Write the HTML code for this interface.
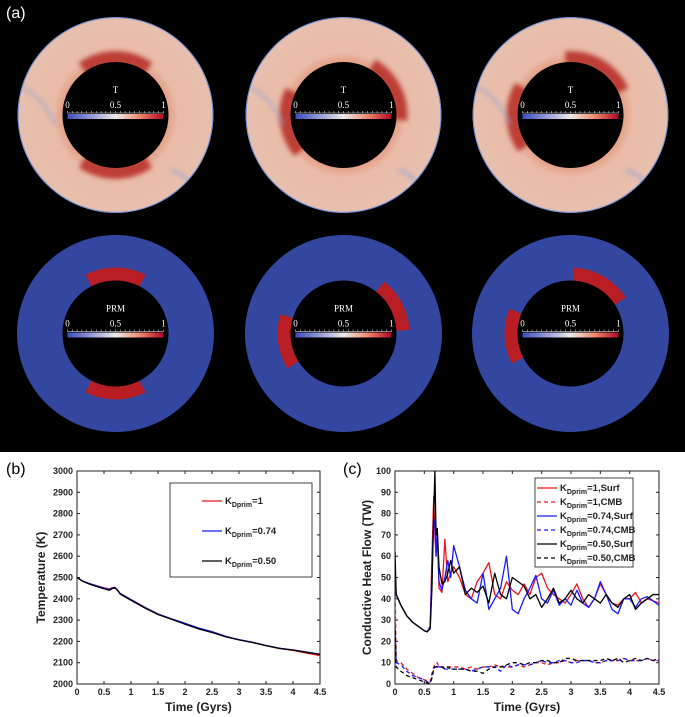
<!DOCTYPE html>
<html><head><meta charset="utf-8">
<style>
html,body{margin:0;padding:0;background:#fff;}
svg{display:block;font-family:"Liberation Sans",sans-serif;}
.tk{font-size:9px;font-weight:bold;fill:#222;}
.cb{font-family:"Liberation Serif",serif;fill:#fff;font-size:9px;}
</style></head>
<body>
<svg id="fig" width="685" height="717" viewBox="0 0 685 717" xmlns="http://www.w3.org/2000/svg">
<defs>
<linearGradient id="cmap" x1="0" x2="1" y1="0" y2="0">
<stop offset="0" stop-color="#3b4cc0"/><stop offset="0.5" stop-color="#eeeaea"/><stop offset="0.75" stop-color="#f08a6c"/><stop offset="1" stop-color="#b40426"/>
</linearGradient>
<radialGradient id="tfill" cx="0.5" cy="0.5" r="0.5">
<stop offset="0.54" stop-color="#e4a088"/><stop offset="0.64" stop-color="#e9bca8"/><stop offset="1" stop-color="#e8bfad"/>
</radialGradient>
<filter id="blur2" x="-20%" y="-20%" width="140%" height="140%"><feGaussianBlur stdDeviation="2.5"/></filter>
</defs>
<rect x="0" y="0" width="685" height="452" fill="#000"/>
<text x="6" y="18" fill="#fff" font-size="16">(a)</text>
<g id="annuli"></g>

<text x="6" y="474" fill="#000" font-size="16">(b)</text>
<g id="chartB"></g>
<text x="343" y="474" fill="#000" font-size="16">(c)</text>
<g id="chartC"></g>
</svg>
<script>
const NS="http://www.w3.org/2000/svg";
function mk(tag,attrs,parent,txt){const e=document.createElementNS(NS,tag);for(const k in attrs)e.setAttribute(k,attrs[k]);if(txt!==undefined)e.textContent=txt;parent.appendChild(e);return e;}

// ---------- Panel (a) annuli ----------
const annCx=[115.5,343.5,570.5];
const capsT=[[[-125,-55],[55,125]],[[-60,5],[140,205]],[[-95,-25],[145,210]]];
const G=document.getElementById('annuli');
const defs=document.querySelector('defs');
function sector(cx,cy,r1,r2,a0,a1){const d=Math.PI/180;const p=(r,a)=>[cx+r*Math.cos(a*d),cy+r*Math.sin(a*d)];
const [x0,y0]=p(r1,a0),[x1,y1]=p(r1,a1),[x2,y2]=p(r2,a1),[x3,y3]=p(r2,a0);const lg=(a1-a0)>180?1:0;
return `M${x0},${y0}A${r1},${r1} 0 ${lg} 1 ${x1},${y1}L${x2},${y2}A${r2},${r2} 0 ${lg} 0 ${x3},${y3}Z`;}
function colorbar(cx,cy,title){
  const g=mk('g',{},G);
  
  
  mk('text',{x:cx,y:cy-22,'text-anchor':'middle',class:'cb','font-size':'10'},g,title);
  mk('rect',{x:cx-48,y:cy-1,width:96,height:5,fill:'url(#cmap)'},g);
  mk('line',{x1:cx-48,x2:cx+48,y1:cy-2,y2:cy-2,stroke:'#fff','stroke-width':0.6},g);
  for(let i=0;i<=20;i++){mk('line',{x1:cx-48+i*4.8,x2:cx-48+i*4.8,y1:cy-4,y2:cy-2,stroke:'#fff','stroke-width':0.5},g);}
  mk('text',{x:cx-48,y:cy-7,'text-anchor':'middle',class:'cb'},g,'0');
  mk('text',{x:cx,y:cy-7,'text-anchor':'middle',class:'cb'},g,'0.5');
  mk('text',{x:cx+48,y:cy-7,'text-anchor':'middle',class:'cb'},g,'1');
}
annCx.forEach((cx,i)=>{
  const cy=115;
  const cp=mk('clipPath',{id:'ac'+i},defs);mk('circle',{cx,cy,r:98},cp);
  const a=mk('g',{'clip-path':`url(#ac${i})`},G);
  
  
  mk('circle',{cx,cy,r:98,fill:'url(#tfill)'},a);
  capsT[i].forEach(c=>{mk('path',{d:sector(cx,cy,50,64,c[0],c[1]),fill:'#b8322a',opacity:0.9,filter:'url(#blur2)'},a);});
  mk('path',{d:`M${cx-98},${cy-30} q25,10 38,40`,stroke:'#8aa3dd','stroke-width':2,fill:'none',filter:'url(#blur2)',opacity:0.8},a);
  mk('path',{d:`M${cx+55},${cy+55} q20,5 35,35`,stroke:'#8aa6e0','stroke-width':2.5,fill:'none',filter:'url(#blur2)',opacity:0.8},a);
  mk('circle',{cx,cy,r:97.5,fill:'none',stroke:'#7090d8','stroke-width':1.2},a);
  mk('circle',{cx,cy,r:53,fill:'#000'},a);
  colorbar(cx,cy,'T');
  const cy2=333.5;
  const b=mk('g',{},G);
  
  
  mk('circle',{cx,cy:cy2,r:98.5,fill:'#3346a0'},b);
  capsT[i].forEach(c=>{mk('path',{d:sector(cx,cy2,52,66,c[0]+8,c[1]-8),fill:'#b81e24'},b);});
  mk('circle',{cx,cy:cy2,r:53,fill:'#000'},b);
  colorbar(cx,cy2,'PRM');
});

// ---------- Panel (b) data ----------
const tB=[0,0.1,0.2,0.3,0.4,0.5,0.6,0.65,0.7,0.75,0.8,1,1.25,1.5,1.75,2,2.25,2.5,2.75,3,3.25,3.5,3.75,4,4.25,4.5];
const tempRed=[2500,2484,2474,2466,2459,2452,2446,2452,2454,2441,2425,2397,2361,2329,2305,2283,2260,2243,2223,2208,2195,2180,2167,2158,2145,2133];
const tempBlue=[2500,2484,2474,2466,2458,2450,2443,2450,2453,2441,2425,2396,2360,2328,2306,2285,2263,2246,2224,2208,2196,2181,2168,2160,2150,2140];
const tempBlack=[2500,2483,2472,2463,2455,2447,2440,2448,2451,2440,2422,2393,2358,2326,2304,2281,2259,2242,2222,2207,2195,2180,2167,2159,2149,2139];
const ticksBX=[0,0.5,1,1.5,2,2.5,3,3.5,4,4.5];
const ticksBY=[2000,2100,2200,2300,2400,2500,2600,2700,2800,2900,3000];

// ---------- Panel (c) data ----------
const tC=[0,0.02,0.1,0.2,0.3,0.4,0.5,0.55,0.6,0.63,0.66,0.68,0.7,0.72,0.75,0.8,0.85,0.9,0.95,1.0,1.1,1.2,1.3,1.4,1.5,1.6,1.7,1.8,1.9,2.0,2.1,2.2,2.3,2.4,2.5,2.6,2.7,2.8,2.9,3.0,3.1,3.2,3.3,3.4,3.5,3.6,3.7,3.8,3.9,4.0,4.1,4.2,4.3,4.4,4.5];
const surfRed=[50,42,37,32,29,27,25,24.5,27,60,88,70,60,72,45,43,68,48,52,55,50,42,40,48,52,57,42,40,48,44,42,47,42,50,52,45,42,40,38,42,47,40,36,40,47,42,38,37,40,40,43,38,40,39,38];
const surfBlue=[50,42,37,32,29,27,25,24.5,27,55,78,75,60,73,48,44,50,58,50,65,55,44,40,38,52,35,40,45,60,35,33,40,45,51,40,38,44,37,40,37,44,38,36,40,48,42,35,33,40,40,36,40,41,39,37];
const surfBlack=[62,42,37,32,29,27,25,24.5,26,45,80,100,70,73,55,47,48,52,58,52,55,42,45,43,46,38,52,42,40,50,48,46,40,42,36,40,45,38,40,44,40,38,42,40,38,42,38,36,40,42,35,38,40,42,42];
const cmbRed=[48,11,10,7,5,3,2,1.5,1,5,8,9,9,10,8,8,8,8,8,8,8,7,8,7,8,8,9,8,8,8,9,8,9,10,10,9,10,10,11,10,11,11,11,10,10,11,11,11,12,11,11,11,12,11,11];
const cmbBlue=[30,10,9,6,4,3,2,1,0.5,3,7,8,8,9,8,8,7,7,7,7,7,7,6,7,8,8,8,6,9,8,9,9,9,10,11,10,10,11,11,10,10,11,11,10,10,11,11,11,12,11,11,11,12,11,11];
const cmbBlack=[25,8,6,4,3,2,1,0.5,0.3,3,7,8,8,8,8,8,7,8,7,7,7,7,6,6,5,7,8,8,9,10,10,9,10,10,11,11,10,10,12,12,11,11,11,11,11,12,11,12,10,11,12,11,12,11,12];
const ticksCX=[0,0.5,1,1.5,2,2.5,3,3.5,4,4.5];
const ticksCY=[0,10,20,30,40,50,60,70,80,90,100];

function axes(gid,L,R,T,B,xmin,xmax,ymin,ymax,tx,ty,xt,yt){
  const g=document.getElementById(gid);
  const sx=v=>L+(v-xmin)/(xmax-xmin)*(R-L), sy=v=>B-(v-ymin)/(ymax-ymin)*(B-T);
  const f=mk('rect',{x:L,y:T,width:R-L,height:B-T,fill:'#fff',stroke:'#222','stroke-width':1},g);
  
  
  tx.forEach(v=>{const x=sx(v);mk('line',{x1:x,x2:x,y1:B,y2:B-3,stroke:'#222'},g);mk('line',{x1:x,x2:x,y1:T,y2:T+3,stroke:'#222'},g);
    const t=mk('text',{x:x,y:B+11,'text-anchor':'middle',class:'tk'},g,String(v));
    
    });
  ty.forEach(v=>{const y=sy(v);mk('line',{x1:L,x2:L+3,y1:y,y2:y,stroke:'#222'},g);mk('line',{x1:R,x2:R-3,y1:y,y2:y,stroke:'#222'},g);
    const t=mk('text',{x:L-4,y:y+3,'text-anchor':'end',class:'tk'},g,String(v));
    
    });
  const xl=mk('text',{x:(L+R)/2,y:B+27,'text-anchor':'middle','font-size':'12','font-weight':'bold',fill:'#222'},g,xt);
  
  
  const yl=mk('text',{x:0,y:0,'text-anchor':'middle','font-size':'12','font-weight':'bold',fill:'#222',transform:`translate(${gid==='chartB'?L-32:L-24},${(T+B)/2}) rotate(-90)`},g,yt);
  
  
  return {g,sx,sy};
}
function series(ax,xs,ys,color,dash,name){
  const d=xs.map((x,i)=>(i?'L':'M')+ax.sx(x).toFixed(2)+','+ax.sy(ys[i]).toFixed(2)).join('');
  const p=mk('path',{d,fill:'none',stroke:color,'stroke-width':1.3,'stroke-dasharray':dash||'none','stroke-linejoin':'round'},ax.g);
  
  
}
function legendEntry(g,x,y,color,dash,main,rest,name){
  const e=mk('g',{},g);
  
  
  mk('line',{x1:x,x2:x+20,y1:y,y2:y,stroke:color,'stroke-width':1.3,'stroke-dasharray':dash||'none'},e);
  const t=mk('text',{x:x+23,y:y+3,'font-size':'9.5','font-weight':'bold',fill:'#222'},e);
  mk('tspan',{},t,'K');
  mk('tspan',{dy:3,'font-size':'7'},t,'Dprim');
  mk('tspan',{dy:-3},t,rest);
}

// chart B
const axB=axes('chartB',77,320,471,684,0,4.5,2000,3000,ticksBX,ticksBY,'Time (Gyrs)','Temperature (K)');
series(axB,tB,tempRed,'#e8141c',null,'series-kdprim-1');
series(axB,tB,tempBlue,'#1a1aff',null,'series-kdprim-0.74');
series(axB,tB,tempBlack,'#000',null,'series-kdprim-0.50');
const lgB=mk('rect',{x:170,y:483,width:142,height:94,fill:'#fff',stroke:'#444','stroke-width':1},axB.g);


legendEntry(axB.g,202,501,'#e8141c',null,'K','=1','legend-entry-1');
legendEntry(axB.g,202,531,'#1a1aff',null,'K','=0.74','legend-entry-0.74');
legendEntry(axB.g,202,561,'#000',null,'K','=0.50','legend-entry-0.50');

// chart C
const axC=axes('chartC',395,659,471,684,0,4.5,0,100,ticksCX,ticksCY,'Time (Gyrs)','Conductive Heat Flow (TW)');
const clip=mk('clipPath',{id:'clipC'},axC.g);mk('rect',{x:395,y:471,width:264,height:213},clip);
const sg=mk('g',{'clip-path':'url(#clipC)'},axC.g);
const axC2={g:sg,sx:axC.sx,sy:axC.sy};
series(axC2,tC,cmbRed,'#e8141c','4,3','series-cmb-1');
series(axC2,tC,cmbBlue,'#1a1aff','4,3','series-cmb-0.74');
series(axC2,tC,cmbBlack,'#000','4,3','series-cmb-0.50');
series(axC2,tC,surfRed,'#e8141c',null,'series-surf-1');
series(axC2,tC,surfBlue,'#1a1aff',null,'series-surf-0.74');
series(axC2,tC,surfBlack,'#000',null,'series-surf-0.50');
const lgC=mk('rect',{x:535,y:478,width:98,height:89,fill:'#fff',stroke:'#444','stroke-width':1},axC.g);


legendEntry(axC.g,537,488,'#e8141c',null,'K','=1,Surf','legend-entry-surf-1');
legendEntry(axC.g,537,502,'#e8141c','4,3','K','=1,CMB','legend-entry-cmb-1');
legendEntry(axC.g,537,516,'#1a1aff',null,'K','=0.74,Surf','legend-entry-surf-0.74');
legendEntry(axC.g,537,530,'#1a1aff','4,3','K','=0.74,CMB','legend-entry-cmb-0.74');
legendEntry(axC.g,537,544,'#000',null,'K','=0.50,Surf','legend-entry-surf-0.50');
legendEntry(axC.g,537,558,'#000','4,3','K','=0.50,CMB','legend-entry-cmb-0.50');
</script>
</body></html>
